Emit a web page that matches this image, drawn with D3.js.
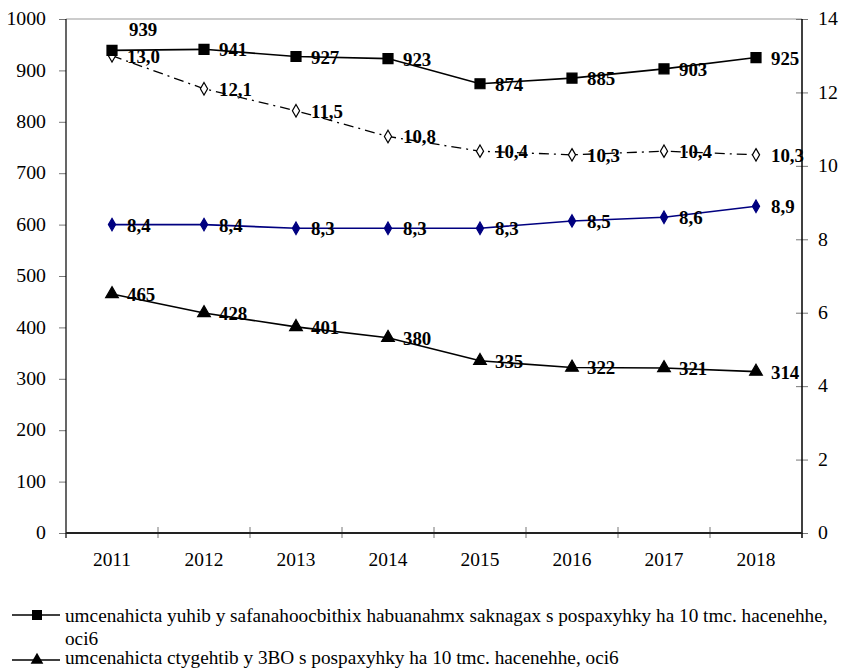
<!DOCTYPE html>
<html>
<head>
<meta charset="utf-8">
<script src="https://cdn.jsdelivr.net/npm/d3@7"></script>
<style>
  body { margin: 0; background: #fff; }
  svg text { font-family: "Liberation Serif", "Times New Roman", serif; }
</style>
</head>
<body>
<svg id="chart" width="843" height="668"></svg>
<script>
'use strict';

var years = ['2011', '2012', '2013', '2014', '2015', '2016', '2017', '2018'];

// left axis series
var squareValues = [939, 941, 927, 923, 874, 885, 903, 925];
var triangleValues = [465, 428, 401, 380, 335, 322, 321, 314];

// right axis series
var blueDiamondValues = [8.4, 8.4, 8.3, 8.3, 8.3, 8.5, 8.6, 8.9];
var openDiamondValues = [13.0, 12.1, 11.5, 10.8, 10.4, 10.3, 10.4, 10.3];

var leftTicks = [0, 100, 200, 300, 400, 500, 600, 700, 800, 900, 1000];
var rightTicks = [0, 2, 4, 6, 8, 10, 12, 14];

var legendLabels = [
  'umcenahicta yuhib y safanahoocbithix habuanahmx saknagax s pospaxyhky ha 10 tmc. hacenehhe, oci6',
  'umcenahicta ctygehtib y 3BO s pospaxyhky ha 10 tmc. hacenehhe, oci6'
];

var plotLeft = 66, plotRight = 802, plotTop = 19, plotBottom = 533;

var svg = d3.select('#chart');

var x = d3.scaleBand().domain(years).range([plotLeft, plotRight]);
var yL = d3.scaleLinear().domain([0, 1000]).range([plotBottom, plotTop]);
var yR = d3.scaleLinear().domain([0, 14]).range([plotBottom, plotTop]);

function cx(d, i) { return x(years[i]) + x.bandwidth() / 2; }

function fmt(v) { return v.toFixed(1).replace('.', ','); }

// the reference text is a bit wider than Times, so stretch it around its anchor
function stretch(sel, s) {
  sel.each(function() {
    var t = d3.select(this);
    var x0 = +t.attr('x') || 0;
    t.attr('transform', 'translate(' + x0 + ',0) scale(' + s + ',1) translate(' + (-x0) + ',0)');
  });
}

// top frame line
svg.append('line')
  .attr('x1', plotLeft).attr('x2', plotRight)
  .attr('y1', plotTop).attr('y2', plotTop)
  .attr('stroke', '#999').attr('stroke-width', 1);

// left axis
var gL = svg.append('g')
  .attr('transform', 'translate(' + plotLeft + ',0)')
  .call(d3.axisLeft(yL).tickValues(leftTicks).tickFormat(d3.format('d')).tickSize(7).tickPadding(13));
gL.select('.domain').remove();
gL.selectAll('.tick line').attr('stroke', '#777');
gL.selectAll('.tick text').attr('font-size', 18).attr('font-family', 'Liberation Serif').attr('fill', '#000')
  .call(stretch, 1.1);
svg.append('line')
  .attr('x1', plotLeft).attr('x2', plotLeft)
  .attr('y1', plotTop).attr('y2', plotBottom + 5)
  .attr('stroke', '#000').attr('stroke-width', 1.2);

// right axis
var gR = svg.append('g')
  .attr('transform', 'translate(' + plotRight + ',0)')
  .call(d3.axisRight(yR).tickValues(rightTicks).tickSize(6).tickPadding(10));
gR.select('.domain').remove();
gR.selectAll('.tick line').attr('x1', -6).attr('stroke', '#777');
gR.selectAll('.tick text').attr('font-size', 18).attr('font-family', 'Liberation Serif').attr('fill', '#000')
  .call(stretch, 1.1);
svg.append('line')
  .attr('x1', plotRight).attr('x2', plotRight)
  .attr('y1', plotTop).attr('y2', plotBottom + 5)
  .attr('stroke', '#000').attr('stroke-width', 1.5);

// bottom axis with ticks between categories
var gB = svg.append('g')
  .attr('transform', 'translate(0,' + plotBottom + ')')
  .call(d3.axisBottom(x).tickSize(0).tickPadding(20));
gB.select('.domain').remove();
gB.selectAll('.tick text').attr('font-size', 18).attr('font-family', 'Liberation Serif').attr('fill', '#000')
  .call(stretch, 1.08);
svg.append('g').selectAll('line')
  .data(years.slice(1))
  .join('line')
  .attr('x1', function(d) { return x(d); })
  .attr('x2', function(d) { return x(d); })
  .attr('y1', plotBottom - 6).attr('y2', plotBottom + 5)
  .attr('stroke', '#777');
svg.append('line')
  .attr('x1', plotLeft).attr('x2', plotRight)
  .attr('y1', plotBottom).attr('y2', plotBottom)
  .attr('stroke', '#222').attr('stroke-width', 2);

var symSquare = d3.symbol().type(d3.symbolSquare).size(100);
var symTriangle = d3.symbol().type(d3.symbolTriangle).size(70);
var symDiamond = d3.symbol().type(d3.symbolDiamond).size(45);

function drawSeries(values, yScale, opts) {
  var line = d3.line()
    .x(cx)
    .y(function(d) { return yScale(d); });

  svg.append('path')
    .datum(values)
    .attr('d', line)
    .attr('fill', 'none')
    .attr('stroke', opts.color)
    .attr('stroke-width', opts.width || 1.6)
    .attr('stroke-dasharray', opts.dash || null);

  svg.append('g').selectAll('path')
    .data(values)
    .join('path')
    .attr('d', opts.symbol)
    .attr('transform', function(d, i) {
      return 'translate(' + cx(d, i) + ',' + yScale(d) + ')';
    })
    .attr('fill', opts.fill)
    .attr('stroke', opts.stroke)
    .attr('stroke-width', 1.2);

  svg.append('g').selectAll('text')
    .data(values)
    .join('text')
    .attr('x', function(d, i) { return cx(d, i) + (opts.labelAbove && i === 0 ? 17 : 15); })
    .attr('y', function(d, i) { return yScale(d) + (opts.labelAbove && i === 0 ? -14 : 7); })
    .attr('font-size', 18)
    .attr('font-weight', 'bold')
    .attr('fill', '#000')
    .text(function(d) { return opts.format ? opts.format(d) : d; })
    .call(stretch, 1.05);
}

drawSeries(openDiamondValues, yR, {
  color: '#000', width: 1.3, dash: '10,5,2,5',
  symbol: symDiamond, fill: '#fff', stroke: '#000', format: fmt
});
drawSeries(blueDiamondValues, yR, {
  color: '#000080', symbol: symDiamond, fill: '#000080', stroke: '#000080', format: fmt
});
drawSeries(triangleValues, yL, {
  color: '#000', symbol: symTriangle, fill: '#000', stroke: '#000'
});
drawSeries(squareValues, yL, {
  color: '#000', symbol: symSquare, fill: '#000', stroke: '#000', labelAbove: true
});

// legend
var legendSymbols = [symSquare, symTriangle];
var legendMarkerY = [615, 660];
var legendTextY = [622, 664];
var legendStretch = 1.07;
var maxTextWidth = 775;

legendLabels.forEach(function(label, k) {
  var g = svg.append('g');
  g.append('line')
    .attr('x1', 12).attr('x2', 60)
    .attr('y1', legendMarkerY[k]).attr('y2', legendMarkerY[k])
    .attr('stroke', '#000').attr('stroke-width', 1.5);
  g.append('path')
    .attr('d', legendSymbols[k])
    .attr('transform', 'translate(37,' + legendMarkerY[k] + ')')
    .attr('fill', '#000');

  var text = g.append('text')
    .attr('x', 65).attr('y', legendTextY[k])
    .attr('font-size', 18)
    .attr('fill', '#000');

  // simple word wrap
  var words = label.split(' ');
  var lineWords = [];
  var tspan = text.append('tspan').attr('x', 65);
  words.forEach(function(w) {
    lineWords.push(w);
    tspan.text(lineWords.join(' '));
    if (tspan.node().getComputedTextLength() * legendStretch > maxTextWidth && lineWords.length > 1) {
      lineWords.pop();
      tspan.text(lineWords.join(' '));
      lineWords = [w];
      tspan = text.append('tspan').attr('x', 65).attr('dy', 23).text(w);
    }
  });
  text.call(stretch, legendStretch);
});
</script>
</body>
</html>
